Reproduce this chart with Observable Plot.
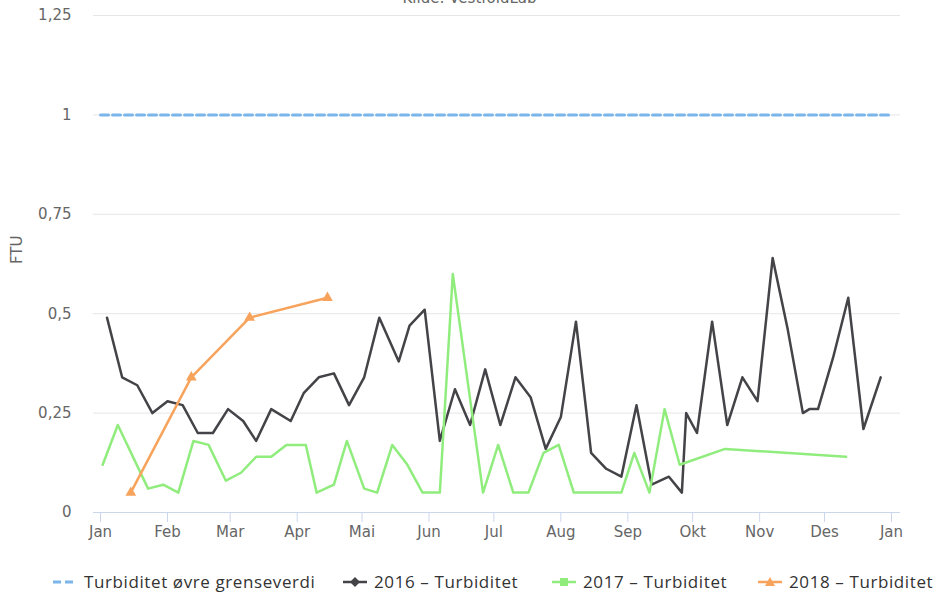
<!DOCTYPE html>
<html>
<head>
<meta charset="utf-8">
<script src="https://cdn.jsdelivr.net/npm/d3@7"></script>
<script src="https://cdn.jsdelivr.net/npm/@observablehq/plot@0.6"></script>
<style>
  body { margin: 0; background: #fff; font-family: "DejaVu Sans", sans-serif; }
  #wrap { position: relative; width: 939px; height: 596px; overflow: hidden; }
  #title { position: absolute; left: 0; width: 939px; top: -11px; text-align: center; font-size: 15px; line-height: 18px; color: #666; }
  #chart { position: absolute; left: 0; top: 0; }
  .leg { position: absolute; top: 570px; display: flex; align-items: center; font-family: "Open Sans", sans-serif; font-size: 17px; letter-spacing: 0.6px; color: #333; font-weight: 500; white-space: nowrap; }
  .leg svg { margin-right: 6px; }
</style>
</head>
<body>
<div id="wrap">
  <div id="chart"></div>
  <div id="title">Kilde: VestfoldLab</div>
</div>
<script>
// ---- data ----
const monthLabels = ["Jan","Feb","Mar","Apr","Mai","Jun","Jul","Aug","Sep","Okt","Nov","Des","Jan"];
const yTicks = [0, 0.25, 0.5, 0.75, 1, 1.25];

const limitDates = ["2016-01-01", "2017-01-01"];
const limitValues = [1, 1];

const dates2016 = ["01-04","01-11","01-18","01-25","02-01","02-08","02-15","02-22","02-29","03-07","03-13","03-20","03-29","04-04","04-11","04-18","04-25","05-02","05-09","05-18","05-23","05-30","06-06","06-13","06-20","06-27","07-04","07-11","07-18","07-25","08-01","08-08","08-15","08-22","08-29","09-05","09-12","09-20","09-26","09-28","10-03","10-10","10-17","10-24","10-31","11-07","11-14","11-21","11-24","11-28","12-05","12-12","12-19","12-27"];
const values2016 = [0.49,0.34,0.32,0.25,0.28,0.27,0.20,0.20,0.26,0.23,0.18,0.26,0.23,0.30,0.34,0.35,0.27,0.34,0.49,0.38,0.47,0.51,0.18,0.31,0.22,0.36,0.22,0.34,0.29,0.16,0.24,0.48,0.15,0.11,0.09,0.27,0.07,0.09,0.05,0.25,0.20,0.48,0.22,0.34,0.28,0.64,0.46,0.25,0.26,0.26,0.39,0.54,0.21,0.34];

const dates2017 = ["01-02","01-09","01-23","01-30","02-06","02-13","02-20","02-28","03-06","03-13","03-20","03-27","04-05","04-10","04-18","04-24","05-02","05-08","05-15","05-22","05-29","06-06","06-12","06-26","07-03","07-10","07-17","07-24","07-31","08-07","08-14","08-21","08-29","09-04","09-11","09-18","09-25","10-16","12-11"];
const values2017 = [0.12,0.22,0.06,0.07,0.05,0.18,0.17,0.08,0.10,0.14,0.14,0.17,0.17,0.05,0.07,0.18,0.06,0.05,0.17,0.12,0.05,0.05,0.60,0.05,0.17,0.05,0.05,0.15,0.17,0.05,0.05,0.05,0.05,0.15,0.05,0.26,0.12,0.16,0.14];

const dates2018 = ["01-15","02-12","03-10","04-15"];
const values2018 = [0.05,0.34,0.49,0.54];

const colors = { limit: "#7cb5ec", s2016: "#434348", s2017: "#90ed7d", s2018: "#f7a35c" };

// ---- build ----
const toDate = md => new Date("2016-" + md + "T00:00:00");
const limit = limitDates.map((d, i) => ({ date: new Date(d + "T00:00:00"), value: limitValues[i] }));
const s2016 = dates2016.map((d, i) => ({ date: toDate(d), value: values2016[i] }));
const s2017 = dates2017.map((d, i) => ({ date: toDate(d), value: values2017[i] }));
const s2018 = dates2018.map((d, i) => ({ date: toDate(d), value: values2018[i] }));
const monthTicks = monthLabels.map((m, i) => new Date(2016, i, 1));

const fmtY = v => String(v).replace(".", ",");
const fmtX = d => monthLabels[d.getFullYear() === 2017 ? 12 : d.getMonth()];

const chart = Plot.plot({
  width: 939,
  height: 545,
  marginLeft: 93,
  marginRight: 39,
  marginTop: 15,
  marginBottom: 33,
  style: { fontFamily: "DejaVu Sans, sans-serif", fontSize: "14px", color: "#666", background: "#fff" },
  x: { type: "time", domain: [new Date(2015, 11, 28, 18), new Date(2017, 0, 5, 4)] },
  y: { domain: [0, 1.25] },
  marks: [
    Plot.gridY(yTicks.filter(t => t > 0), { stroke: "#e6e6e6", strokeOpacity: 1 }),
    Plot.ruleY([0], { stroke: "#ccd6eb", strokeWidth: 1 }),
    Plot.axisY({ ticks: yTicks, tickFormat: fmtY, tickSize: 0, tickPadding: 22, fontSize: 15, fill: "#666", label: null }),
    Plot.axisX({ ticks: monthTicks, tickFormat: fmtX, tickSize: 10, stroke: "#ccd6eb", strokeOpacity: 1, tickPadding: 4, fontSize: 15, fill: "#666", label: null }),
    Plot.text(["FTU"], { frameAnchor: "left", dx: -76, rotate: -90, fontSize: 15, fill: "#666" }),
    Plot.line(limit, { x: "date", y: "value", stroke: colors.limit, strokeWidth: 3, strokeDasharray: "8,4" }),
    Plot.line(s2016, { x: "date", y: "value", stroke: colors.s2016, strokeWidth: 2.5 }),
    Plot.line(s2017, { x: "date", y: "value", stroke: colors.s2017, strokeWidth: 2.5 }),
    Plot.line(s2018, { x: "date", y: "value", stroke: colors.s2018, strokeWidth: 2.5 }),
    Plot.dot(s2018, { x: "date", y: "value", symbol: "triangle", r: 4, fill: colors.s2018, stroke: "none" })
  ]
});
document.getElementById("chart").appendChild(chart);

// ---- legend ----
const legendItems = [
  { label: "Turbiditet øvre grenseverdi", color: colors.limit, marker: "dash", left: 52 },
  { label: "2016 – Turbiditet", color: colors.s2016, marker: "diamond", left: 342 },
  { label: "2017 – Turbiditet", color: colors.s2017, marker: "square", left: 551 },
  { label: "2018 – Turbiditet", color: colors.s2018, marker: "triangle", left: 757 }
];
const wrap = document.getElementById("wrap");
for (const it of legendItems) {
  const div = document.createElement("div");
  div.className = "leg";
  div.style.left = it.left + "px";
  let sym = "";
  if (it.marker === "dash") {
    sym = `<line x1="1" y1="8" x2="23" y2="8" stroke="${it.color}" stroke-width="3" stroke-dasharray="8,4"/>`;
  } else {
    sym = `<line x1="1" y1="8" x2="25" y2="8" stroke="${it.color}" stroke-width="2.5"/>`;
    if (it.marker === "diamond") sym += `<path d="M13,3 L18,8 L13,13 L8,8 Z" fill="${it.color}"/>`;
    if (it.marker === "square") sym += `<rect x="9" y="4" width="8" height="8" fill="${it.color}"/>`;
    if (it.marker === "triangle") sym += `<path d="M13,3 L18,12 L8,12 Z" fill="${it.color}"/>`;
  }
  div.innerHTML = `<svg width="26" height="16">${sym}</svg><span>${it.label}</span>`;
  wrap.appendChild(div);
}
</script>
</body>
</html>
